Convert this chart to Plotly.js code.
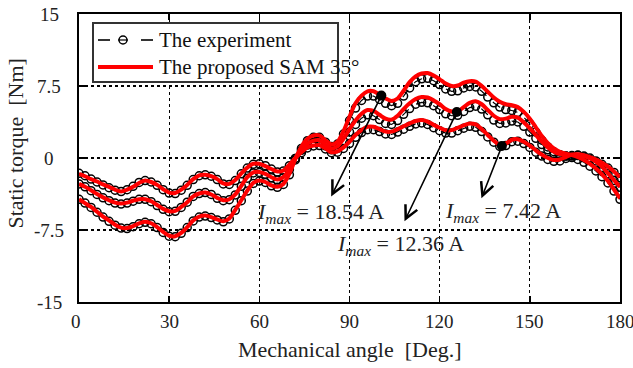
<!DOCTYPE html>
<html>
<head>
<meta charset="utf-8">
<script src="https://cdn.plot.ly/plotly-3.0.1.min.js"></script>
<style>html,body{margin:0;padding:0;background:#fff;}#chart{width:633px;height:368px;}</style>
</head>
<body>
<div id="chart"></div>
<script>
// Mechanical angle [deg]
const angle = [0,2,4,6,8,10,12,14,16,18,20,22,24,26,28,30,32,34,36,38,40,42,44,46,48,50,52,54,56,58,60,62,64,66,68,70,72,74,76,78,80,82,84,86,88,90,92,94,96,98,100,102,104,106,108,110,112,114,116,118,120,122,124,126,128,130,132,134,136,138,140,142,144,146,148,150,152,154,156,158,160,162,164,166,168,170,172,174,176,178,180];

// Simulation (proposed SAM 35°): Imax = 7.42 A, 12.36 A, 18.54 A
const simA = [-1.65,-1.9,-2.2,-2.45,-2.75,-3.0,-3.3,-3.5,-3.3,-3.0,-2.6,-2.35,-2.5,-2.8,-3.25,-3.6,-3.65,-3.3,-2.8,-2.2,-1.8,-1.75,-1.9,-2.2,-2.65,-2.7,-2.3,-1.6,-1.0,-0.6,-0.6,-0.85,-1.15,-1.4,-1.3,-0.7,0.0,0.6,1.1,1.3,1.35,1.0,0.6,0.7,1.1,1.7,2.4,2.9,3.25,3.25,3.0,2.75,2.75,3.0,3.3,3.6,3.85,3.95,3.8,3.45,3.15,2.9,2.9,3.15,3.4,3.6,3.5,3.0,2.4,1.8,1.35,1.5,1.9,1.95,1.7,1.3,0.8,0.35,0.0,-0.2,-0.15,0.1,0.35,0.4,0.3,0.1,-0.15,-0.5,-0.9,-1.4,-2.0];
const simB = [-2.7,-3.0,-3.35,-3.75,-4.1,-4.4,-4.65,-4.75,-4.65,-4.45,-4.3,-4.3,-4.5,-4.9,-5.3,-5.55,-5.5,-5.1,-4.6,-4.0,-3.7,-3.6,-3.8,-4.15,-4.4,-4.3,-3.8,-2.9,-2.0,-1.5,-1.45,-1.65,-2.0,-2.25,-2.0,-1.15,0.0,0.9,1.5,1.8,1.85,1.4,1.0,1.2,2.0,3.0,3.9,4.6,5.0,4.9,4.5,4.1,4.0,4.4,5.1,5.7,6.15,6.35,6.3,6.0,5.6,5.1,4.85,4.85,5.3,5.75,5.9,5.6,5.0,4.4,4.05,4.1,4.3,4.2,3.7,3.1,2.4,1.7,1.1,0.65,0.4,0.3,0.35,0.35,0.2,-0.05,-0.4,-0.9,-1.6,-2.3,-3.0];
const simC = [-4.3,-4.7,-5.1,-5.6,-6.1,-6.5,-6.95,-7.25,-7.3,-7.1,-6.8,-6.65,-6.8,-7.2,-7.7,-8.1,-8.15,-7.8,-7.2,-6.5,-6.1,-6.0,-6.15,-6.4,-6.6,-6.3,-5.4,-4.4,-3.4,-2.6,-2.35,-2.5,-2.85,-3.0,-2.7,-1.65,-0.1,1.2,2.0,2.35,2.35,1.85,1.4,1.7,2.8,4.3,5.7,6.5,6.95,6.95,6.6,6.2,5.95,6.2,7.0,7.9,8.5,8.8,8.85,8.6,8.2,7.75,7.5,7.55,7.85,8.0,7.95,7.5,6.9,6.3,5.85,5.6,5.5,5.3,4.8,4.1,3.2,2.3,1.55,1.0,0.65,0.45,0.3,0.1,-0.2,-0.6,-1.1,-1.7,-2.4,-3.3,-4.2];

// Experiment
const expA = [-1.6,-1.85,-2.2,-2.5,-2.8,-3.1,-3.35,-3.5,-3.3,-2.95,-2.55,-2.35,-2.5,-2.85,-3.3,-3.65,-3.7,-3.35,-2.85,-2.25,-1.85,-1.75,-1.9,-2.25,-2.7,-2.75,-2.35,-1.65,-1.05,-0.65,-0.6,-0.8,-1.15,-1.45,-1.35,-0.8,-0.05,0.55,1.05,1.25,1.3,0.95,0.55,0.6,1.0,1.5,2.15,2.65,2.95,2.95,2.75,2.5,2.45,2.7,3.0,3.3,3.55,3.65,3.5,3.15,2.85,2.6,2.6,2.85,3.1,3.3,3.2,2.75,2.2,1.65,1.2,1.3,1.7,1.75,1.5,1.1,0.6,0.2,-0.15,-0.35,-0.3,-0.05,0.2,0.3,0.2,0.0,-0.3,-0.65,-1.05,-1.5,-2.05];
const expB = [-2.7,-3.0,-3.4,-3.8,-4.15,-4.45,-4.7,-4.8,-4.7,-4.5,-4.3,-4.3,-4.55,-4.95,-5.35,-5.6,-5.55,-5.15,-4.6,-4.0,-3.7,-3.6,-3.8,-4.2,-4.45,-4.35,-3.85,-2.95,-2.1,-1.55,-1.5,-1.7,-2.05,-2.3,-2.05,-1.2,-0.05,0.8,1.35,1.65,1.7,1.25,0.85,1.0,1.75,2.7,3.5,4.15,4.5,4.4,4.0,3.6,3.5,3.9,4.55,5.15,5.6,5.8,5.75,5.45,5.05,4.6,4.4,4.45,4.85,5.25,5.4,5.1,4.5,3.95,3.6,3.65,3.85,3.75,3.3,2.7,2.05,1.4,0.85,0.45,0.25,0.2,0.25,0.25,0.1,-0.15,-0.5,-1.0,-1.65,-2.35,-3.05];
const expC = [-4.3,-4.7,-5.15,-5.65,-6.15,-6.6,-7.0,-7.3,-7.35,-7.15,-6.85,-6.7,-6.85,-7.25,-7.75,-8.15,-8.2,-7.85,-7.25,-6.55,-6.15,-6.05,-6.2,-6.45,-6.65,-6.35,-5.45,-4.45,-3.45,-2.65,-2.4,-2.55,-2.9,-3.05,-2.75,-1.75,-0.2,1.0,1.8,2.15,2.15,1.65,1.2,1.45,2.5,3.9,5.2,6.0,6.45,6.45,6.1,5.7,5.45,5.7,6.45,7.3,7.95,8.25,8.3,8.05,7.65,7.2,6.95,7.0,7.3,7.45,7.4,6.95,6.35,5.75,5.3,5.05,4.95,4.75,4.25,3.55,2.7,1.85,1.15,0.65,0.35,0.2,0.05,-0.15,-0.45,-0.85,-1.35,-1.95,-2.6,-3.45,-4.3];

// Marked points and labels
const markAngle = [100.6, 125.7, 140.7];
const markTorque = [6.5, 4.8, 1.25];
const markLabels = ['18.54', '12.36', '7.42'];

const xTicks = [0, 30, 60, 90, 120, 150, 180];
const xTickText = ['0', '30', '60', '90', '120', '150', '180'];
const yTicks = [-15, -7.5, 0, 7.5, 15];
const yTickText = ['-15', '-7.5', '0', '7.5', '15'];
const legendNames = ['The experiment', 'The proposed SAM 35°'];

const FONT = 'Liberation Serif';
const TXT = '#222';
const traces = [];
[expA, expB, expC].forEach((ys) => {
  traces.push({
    x: angle, y: ys, type: 'scatter', mode: 'lines+markers',
    name: legendNames[0], showlegend: false,
    line: {color: '#000', width: 1.2, dash: 'dash'},
    marker: {symbol: 'circle-open', size: 8, color: '#000', line: {width: 1.5, color: '#000'}}
  });
});
[simA, simB, simC].forEach((ys) => {
  traces.push({
    x: angle, y: ys, type: 'scatter', mode: 'lines',
    name: legendNames[1], showlegend: false,
    line: {color: '#ff0000', width: 4, shape: 'spline', smoothing: 0.8}
  });
});
traces.push({
  x: markAngle, y: markTorque, type: 'scatter', mode: 'markers', showlegend: false,
  marker: {symbol: 'circle', size: 10, color: '#000'}
});

// plot-area pixel helpers (plot: x 79..620, y 14..302)
const px = (p) => (p - 79) / 541;
const py = (p) => 1 - (p - 14) / 288;

const arrowHead = [[83.9, -4.0], [108.3, -6.6], [133.9, -4.2]];
const labelPos = [[80.5, -5.7], [107, -9.1], [141, -5.6]];
const annotations = [];
markAngle.forEach((a, i) => {
  annotations.push({
    x: arrowHead[i][0], y: arrowHead[i][1], ax: a, ay: markTorque[i],
    xref: 'x', yref: 'y', axref: 'x', ayref: 'y', text: '',
    showarrow: true, arrowhead: 5, arrowsize: 1.6, arrowwidth: 1.6, arrowcolor: '#000'
  });
  annotations.push({
    x: labelPos[i][0], y: labelPos[i][1], xref: 'x', yref: 'y', showarrow: false,
    xanchor: 'center', yanchor: 'middle',
    text: '<i>I</i><sub><i>max</i></sub> = ' + markLabels[i] + ' A',
    font: {family: FONT, size: 22, color: TXT}
  });
});
// tick labels (serif, as in the reference)
xTicks.forEach((v, i) => {
  annotations.push({
    x: v, y: py(321), xref: 'x', yref: 'paper', showarrow: false,
    xanchor: 'center', yanchor: 'middle', text: xTickText[i],
    xshift: i === 0 ? -3 : 0,
    font: {family: FONT, size: 19, color: TXT}
  });
});
yTicks.forEach((v, i) => {
  annotations.push({
    x: px(49), y: v, xref: 'paper', yref: 'y', showarrow: false,
    xanchor: 'center', yanchor: 'middle', text: yTickText[i],
    font: {family: FONT, size: 19, color: TXT}
  });
});
annotations.push({
  x: px(16), y: 0.55, xref: 'paper', yref: 'paper', showarrow: false, textangle: -90,
  xanchor: 'center', yanchor: 'middle',
  text: 'Static torque  [Nm]', font: {family: FONT, size: 22, color: TXT}
});
annotations.push({
  x: 0.5, y: py(349), xref: 'paper', yref: 'paper', showarrow: false,
  xanchor: 'center', yanchor: 'middle',
  text: 'Mechanical angle  [Deg.]', font: {family: FONT, size: 22, color: TXT}
});
// legend texts
annotations.push({
  x: px(157), y: py(40), xref: 'paper', yref: 'paper', showarrow: false,
  xanchor: 'left', yanchor: 'middle', text: legendNames[0],
  font: {family: FONT, size: 21, color: '#111'}
});
annotations.push({
  x: px(157), y: py(67), xref: 'paper', yref: 'paper', showarrow: false,
  xanchor: 'left', yanchor: 'middle', text: legendNames[1],
  font: {family: FONT, size: 21, color: '#111'}
});

const shapes = [
  {type: 'rect', xref: 'paper', yref: 'paper', x0: px(93), x1: px(338), y0: py(82), y1: py(23),
   fillcolor: '#fff', line: {color: '#333', width: 2}, layer: 'above'},
  {type: 'line', xref: 'paper', yref: 'paper', x0: px(98), x1: px(110), y0: py(40), y1: py(40),
   line: {color: '#000', width: 1.6}},
  {type: 'circle', xref: 'paper', yref: 'paper', x0: px(119), x1: px(127), y0: py(44), y1: py(36),
   line: {color: '#000', width: 1.5}},
  {type: 'line', xref: 'paper', yref: 'paper', x0: px(118), x1: px(128), y0: py(40), y1: py(40),
   line: {color: '#000', width: 1.2}},
  {type: 'line', xref: 'paper', yref: 'paper', x0: px(141), x1: px(153), y0: py(40), y1: py(40),
   line: {color: '#000', width: 1.6}},
  {type: 'line', xref: 'paper', yref: 'paper', x0: px(98), x1: px(153), y0: py(67), y1: py(67),
   line: {color: '#ff0000', width: 4}}
];

function makeAxis(extra) {
  return Object.assign({
    showline: true, linecolor: '#000', linewidth: 2, mirror: 'ticks',
    ticks: 'inside', ticklen: 6, tickwidth: 1.5, tickcolor: '#000',
    showgrid: true, gridcolor: '#000', gridwidth: 1.3, griddash: 'dot',
    zeroline: false, showticklabels: false
  }, extra);
}
const layout = {
  width: 633, height: 368,
  margin: {l: 79, r: 13, t: 14, b: 66},
  font: {family: FONT, size: 19, color: TXT},
  paper_bgcolor: '#fff', plot_bgcolor: '#fff',
  showlegend: false,
  xaxis: makeAxis({range: [0, 180], tickmode: 'array', tickvals: xTicks}),
  yaxis: makeAxis({range: [-15, 15], tickmode: 'array', tickvals: yTicks}),
  annotations: annotations,
  shapes: shapes
};
Plotly.newPlot('chart', traces, layout, {displayModeBar: false, staticPlot: true});
</script>
</body>
</html>
